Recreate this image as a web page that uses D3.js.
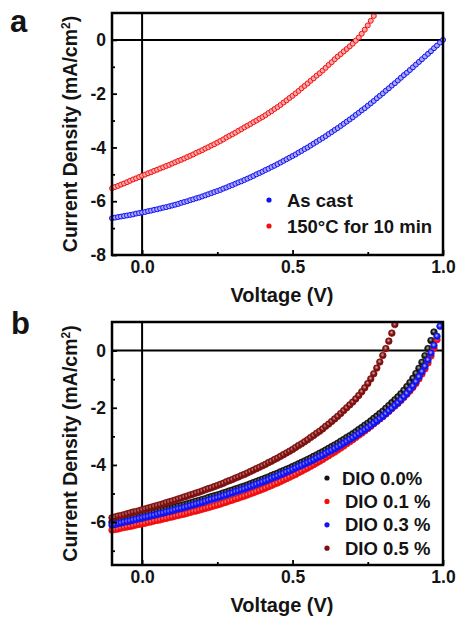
<!DOCTYPE html>
<html>
<head>
<meta charset="utf-8">
<script src="https://cdn.jsdelivr.net/npm/d3@7"></script>
<style>
  html, body { margin: 0; padding: 0; background: #fff; }
  svg { display: block; }
  text { font-family: "Liberation Sans", Arial, sans-serif; font-weight: bold; fill: #141414; }
</style>
</head>
<body>
<script>
// ---------- DATA ----------
const voltages = [
  -0.10,-0.09,-0.08,-0.07,-0.06,-0.05,-0.04,-0.03,-0.02,-0.01,
  0.00,0.01,0.02,0.03,0.04,0.05,0.06,0.07,0.08,0.09,
  0.10,0.11,0.12,0.13,0.14,0.15,0.16,0.17,0.18,0.19,
  0.20,0.21,0.22,0.23,0.24,0.25,0.26,0.27,0.28,0.29,
  0.30,0.31,0.32,0.33,0.34,0.35,0.36,0.37,0.38,0.39,
  0.40,0.41,0.42,0.43,0.44,0.45,0.46,0.47,0.48,0.49,
  0.50,0.51,0.52,0.53,0.54,0.55,0.56,0.57,0.58,0.59,
  0.60,0.61,0.62,0.63,0.64,0.65,0.66,0.67,0.68,0.69,
  0.70,0.71,0.72,0.73,0.74,0.75,0.76,0.77,0.78,0.79,
  0.80,0.81,0.82,0.83,0.84,0.85,0.86,0.87,0.88,0.89,
  0.90,0.91,0.92,0.93,0.94,0.95,0.96,0.97,0.98,0.99,
  1.00
];

// Panel a
const asCast = [
  -6.63,-6.61,-6.59,-6.57,-6.55,-6.53,-6.51,-6.49,-6.46,-6.44,
  -6.42,-6.40,-6.37,-6.35,-6.32,-6.30,-6.27,-6.24,-6.22,-6.19,
  -6.16,-6.13,-6.10,-6.06,-6.03,-6.00,-5.96,-5.93,-5.89,-5.86,
  -5.82,-5.78,-5.74,-5.70,-5.66,-5.62,-5.58,-5.53,-5.49,-5.44,
  -5.40,-5.35,-5.30,-5.26,-5.21,-5.16,-5.11,-5.06,-5.00,-4.95,
  -4.90,-4.84,-4.79,-4.73,-4.68,-4.62,-4.56,-4.50,-4.44,-4.38,
  -4.32,-4.26,-4.19,-4.13,-4.06,-4.00,-3.93,-3.86,-3.79,-3.72,
  -3.65,-3.58,-3.50,-3.43,-3.35,-3.28,-3.20,-3.12,-3.04,-2.96,
  -2.88,-2.79,-2.71,-2.62,-2.54,-2.45,-2.36,-2.27,-2.17,-2.08,
  -1.99,-1.89,-1.80,-1.70,-1.61,-1.51,-1.41,-1.31,-1.22,-1.12,
  -1.02,-0.92,-0.82,-0.72,-0.62,-0.52,-0.42,-0.31,-0.21,-0.10,
  0.00
];
const annealed = [
  -5.52,-5.47,-5.43,-5.38,-5.34,-5.29,-5.24,-5.19,-5.15,-5.10,
  -5.05,-5.01,-4.96,-4.92,-4.87,-4.83,-4.78,-4.74,-4.69,-4.65,
  -4.60,-4.55,-4.50,-4.46,-4.41,-4.36,-4.31,-4.26,-4.20,-4.15,
  -4.10,-4.04,-3.99,-3.93,-3.88,-3.82,-3.76,-3.70,-3.63,-3.57,
  -3.51,-3.45,-3.38,-3.32,-3.25,-3.19,-3.13,-3.06,-3.00,-2.93,
  -2.87,-2.80,-2.72,-2.65,-2.57,-2.50,-2.42,-2.33,-2.25,-2.16,
  -2.08,-1.99,-1.90,-1.80,-1.71,-1.62,-1.52,-1.43,-1.33,-1.24,
  -1.14,-1.04,-0.93,-0.83,-0.72,-0.62,-0.53,-0.43,-0.34,-0.24,
  -0.14,-0.03,0.09,0.23,0.38,0.54,0.71,0.89
];

// Panel b
const dio00 = [
  -6.00,-5.98,-5.95,-5.93,-5.90,-5.88,-5.86,-5.83,-5.81,-5.78,
  -5.76,-5.73,-5.71,-5.68,-5.66,-5.63,-5.60,-5.58,-5.55,-5.53,
  -5.50,-5.47,-5.44,-5.42,-5.39,-5.36,-5.33,-5.30,-5.27,-5.24,
  -5.21,-5.18,-5.14,-5.11,-5.08,-5.05,-5.02,-4.98,-4.95,-4.91,
  -4.88,-4.84,-4.81,-4.77,-4.74,-4.70,-4.66,-4.62,-4.58,-4.54,
  -4.50,-4.46,-4.42,-4.37,-4.33,-4.29,-4.24,-4.20,-4.15,-4.11,
  -4.06,-4.01,-3.96,-3.91,-3.86,-3.81,-3.76,-3.70,-3.65,-3.59,
  -3.54,-3.48,-3.42,-3.36,-3.30,-3.24,-3.17,-3.11,-3.04,-2.98,
  -2.91,-2.84,-2.76,-2.69,-2.61,-2.54,-2.46,-2.37,-2.29,-2.20,
  -2.12,-2.02,-1.92,-1.82,-1.72,-1.62,-1.51,-1.39,-1.26,-1.12,
  -0.97,-0.80,-0.62,-0.41,-0.18,0.07,0.35,0.65
];
const dio01 = [
  -6.28,-6.26,-6.24,-6.21,-6.19,-6.17,-6.15,-6.13,-6.10,-6.08,
  -6.06,-6.04,-6.01,-5.99,-5.96,-5.94,-5.92,-5.89,-5.87,-5.84,
  -5.82,-5.79,-5.77,-5.74,-5.72,-5.69,-5.66,-5.63,-5.61,-5.58,
  -5.55,-5.52,-5.49,-5.46,-5.43,-5.40,-5.37,-5.33,-5.30,-5.26,
  -5.23,-5.19,-5.16,-5.12,-5.09,-5.05,-5.01,-4.97,-4.93,-4.89,
  -4.85,-4.81,-4.76,-4.72,-4.67,-4.63,-4.58,-4.53,-4.48,-4.43,
  -4.38,-4.33,-4.27,-4.22,-4.16,-4.11,-4.05,-3.99,-3.93,-3.87,
  -3.81,-3.74,-3.68,-3.61,-3.55,-3.48,-3.41,-3.34,-3.26,-3.19,
  -3.12,-3.04,-2.96,-2.89,-2.81,-2.73,-2.65,-2.56,-2.48,-2.39,
  -2.31,-2.22,-2.13,-2.03,-1.94,-1.85,-1.75,-1.64,-1.53,-1.41,
  -1.29,-1.15,-0.99,-0.82,-0.64,-0.43,-0.19,0.08,0.38
];
const dio03 = [
  -6.10,-6.08,-6.05,-6.03,-6.00,-5.98,-5.96,-5.93,-5.91,-5.88,
  -5.86,-5.83,-5.81,-5.78,-5.76,-5.73,-5.70,-5.68,-5.65,-5.63,
  -5.60,-5.57,-5.54,-5.52,-5.49,-5.46,-5.43,-5.40,-5.37,-5.34,
  -5.31,-5.28,-5.24,-5.21,-5.18,-5.15,-5.12,-5.08,-5.05,-5.01,
  -4.98,-4.94,-4.91,-4.87,-4.84,-4.80,-4.76,-4.72,-4.68,-4.64,
  -4.60,-4.56,-4.52,-4.47,-4.43,-4.39,-4.34,-4.30,-4.25,-4.21,
  -4.16,-4.11,-4.06,-4.02,-3.97,-3.92,-3.87,-3.82,-3.76,-3.71,
  -3.66,-3.60,-3.54,-3.49,-3.43,-3.37,-3.31,-3.24,-3.18,-3.11,
  -3.05,-2.98,-2.91,-2.84,-2.77,-2.70,-2.62,-2.54,-2.46,-2.38,
  -2.30,-2.21,-2.11,-2.02,-1.92,-1.83,-1.72,-1.61,-1.50,-1.37,
  -1.24,-1.09,-0.92,-0.74,-0.55,-0.33,-0.09,0.18,0.50,0.85
];
const dio05 = [
  -5.85,-5.82,-5.79,-5.77,-5.74,-5.71,-5.68,-5.65,-5.63,-5.60,
  -5.57,-5.54,-5.51,-5.48,-5.45,-5.42,-5.39,-5.36,-5.32,-5.29,
  -5.26,-5.23,-5.19,-5.16,-5.12,-5.09,-5.05,-5.02,-4.98,-4.95,
  -4.91,-4.87,-4.83,-4.80,-4.76,-4.72,-4.68,-4.64,-4.59,-4.55,
  -4.51,-4.46,-4.42,-4.37,-4.33,-4.28,-4.23,-4.18,-4.13,-4.08,
  -4.03,-3.98,-3.92,-3.87,-3.81,-3.76,-3.70,-3.64,-3.58,-3.52,
  -3.46,-3.39,-3.32,-3.26,-3.19,-3.12,-3.04,-2.97,-2.89,-2.82,
  -2.74,-2.65,-2.57,-2.48,-2.39,-2.30,-2.20,-2.10,-2.00,-1.90,
  -1.80,-1.69,-1.57,-1.44,-1.30,-1.15,-0.99,-0.81,-0.61,-0.40,
  -0.17,0.07,0.33,0.61,0.91
];

const xTicks = [0.0, 0.5, 1.0];
const xMinorTicks = [0.25, 0.75];
const yTicksA = [0, -2, -4, -6, -8];
const yMinorA = [-1, -3, -5, -7];
const yTicksB = [0, -2, -4, -6];
const yMinorB = [-1, -3, -5, -7];

const seriesA = [
  { name: "As cast", values: asCast, color: "#1010f0", light: "#a8a8ff" },
  { name: "150°C for 10 min", values: annealed, color: "#f01010", light: "#ffa8a8" }
];
const seriesB = [
  { name: "DIO 0.0%", values: dio00, color: "#141414", light: "#b0b0b0" },
  { name: "DIO 0.1 %", values: dio01, color: "#f01010", light: "#ffb0b0" },
  { name: "DIO 0.3 %", values: dio03, color: "#1414f0", light: "#b8b8ff" },
  { name: "DIO 0.5 %", values: dio05, color: "#7e1010", light: "#e0a8a8" }
];

// ---------- DRAW ----------
const W = 457, H = 617;
const svg = d3.select("body").append("svg").attr("width", W).attr("height", H);
const defs = svg.append("defs");

seriesB.forEach((s, i) => {
  const g = defs.append("radialGradient").attr("id", "sph" + i)
    .attr("cx", "45%").attr("cy", "40%").attr("r", "60%");
  g.append("stop").attr("offset", "0%").attr("stop-color", s.light);
  g.append("stop").attr("offset", "55%").attr("stop-color", s.color);
  g.append("stop").attr("offset", "100%").attr("stop-color", s.color);
});

function panel(cfg) {
  const { left, right, top, bottom, yDomain, yTicks, yMinor, series, markerR, sphere,
          label, labelX, labelY, titleY, legend } = cfg;
  const x = d3.scaleLinear().domain([-0.1, 1.0]).range([left, right]);
  const y = d3.scaleLinear().domain(yDomain).range([bottom, top]);
  const g = svg.append("g");

  // zero lines
  g.append("line").attr("x1", x(0)).attr("x2", x(0)).attr("y1", top).attr("y2", bottom)
    .attr("stroke", "#000").attr("stroke-width", 2);
  g.append("line").attr("x1", left).attr("x2", right).attr("y1", y(0)).attr("y2", y(0))
    .attr("stroke", "#000").attr("stroke-width", 2);

  // data
  series.forEach((s, si) => {
    const pts = s.values.map((v, i) => ({ v: voltages[i], j: v }));
    g.append("g").selectAll("circle").data(pts).join("circle")
      .attr("cx", d => x(d.v)).attr("cy", d => y(d.j)).attr("r", markerR)
      .attr("fill", sphere ? `url(#sph${si})` : s.light)
      .attr("stroke", s.color).attr("stroke-width", sphere ? 0.7 : 1);
  });

  // axes
  const ax = g.append("g").attr("transform", `translate(0,${bottom})`)
    .call(d3.axisBottom(x).tickValues(xTicks).tickSizeInner(-5).tickSizeOuter(0)
      .tickPadding(6).tickFormat(d3.format(".1f")));
  const axm = g.append("g").attr("transform", `translate(0,${bottom})`)
    .call(d3.axisBottom(x).tickValues(xMinorTicks).tickSizeInner(-3).tickSizeOuter(0).tickFormat(""));
  const ay = g.append("g").attr("transform", `translate(${left},0)`)
    .call(d3.axisLeft(y).tickValues(yTicks).tickSizeInner(-5).tickSizeOuter(0)
      .tickPadding(6).tickFormat(d => String(d)));
  const aym = g.append("g").attr("transform", `translate(${left},0)`)
    .call(d3.axisLeft(y).tickValues(yMinor).tickSizeInner(-3).tickSizeOuter(0).tickFormat(""));
  [ax, axm, ay, aym].forEach(a => {
    a.select(".domain").remove();
    a.selectAll("line").attr("stroke", "#000").attr("stroke-width", 1.8);
    a.selectAll("text").attr("font-size", 17.5).attr("fill", "#141414")
      .attr("font-family", "'Liberation Sans', Arial, sans-serif").attr("font-weight", "bold");
  });

  // frame
  g.append("rect").attr("x", left).attr("y", top).attr("width", right - left).attr("height", bottom - top)
    .attr("fill", "none").attr("stroke", "#000").attr("stroke-width", 2.5);

  // titles
  g.append("text").attr("x", 282).attr("y", titleY)
    .attr("text-anchor", "middle").attr("font-size", 20).text("Voltage (V)");
  const yt = g.append("text").attr("transform", `translate(77,${(top + bottom) / 2}) rotate(-90)`)
    .attr("text-anchor", "middle").attr("font-size", 19.5);
  yt.append("tspan").text("Current Density (mA/cm");
  yt.append("tspan").attr("font-size", 12).attr("dy", -7).text("2");
  yt.append("tspan").attr("dy", 7).text(")");

  g.append("text").attr("x", labelX).attr("y", labelY).attr("font-size", 31).text(label);

  // legend
  legend.items.forEach((s, i) => {
    const yy = legend.y + i * legend.dy;
    g.append("circle").attr("cx", legend.x).attr("cy", yy).attr("r", 2.6)
      .attr("fill", s.color);
    g.append("text").attr("x", legend.tx + (s.shift || 0)).attr("y", yy + 6.5)
      .attr("font-size", 18.5).text(s.name);
  });
}

panel({
  left: 112, right: 443, top: 13, bottom: 255,
  yDomain: [-8, 1], yTicks: yTicksA, yMinor: yMinorA,
  series: seriesA, markerR: 2.5, sphere: false,
  label: "a", labelX: 10, labelY: 32, titleY: 302,
  legend: { x: 269, y: 200, dy: 26, tx: 287, items: seriesA }
});

panel({
  left: 112, right: 443, top: 322, bottom: 565,
  yDomain: [-7.5, 1], yTicks: yTicksB, yMinor: yMinorB,
  series: seriesB, markerR: 3.3, sphere: true,
  label: "b", labelX: 11, labelY: 334, titleY: 612,
  legend: { x: 327, y: 478, dy: 23.4, tx: 342,
    items: seriesB.map((s, i) => Object.assign({}, s, { shift: i === 0 ? 0 : 3 })) }
});
</script>
</body>
</html>
